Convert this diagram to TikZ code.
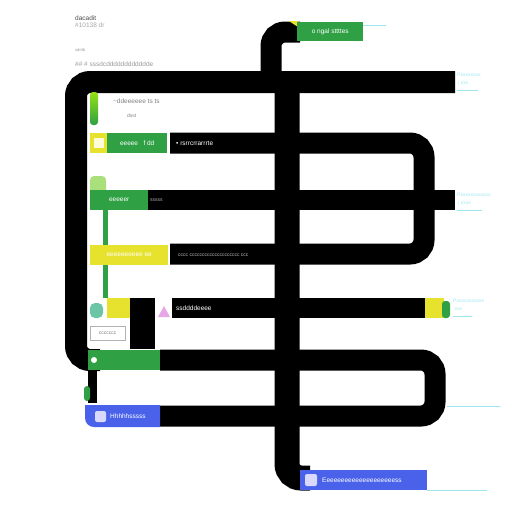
\documentclass[tikz,border=0pt]{standalone}
\usepackage{fontspec}
\setsansfont{Liberation Sans}
\usetikzlibrary{positioning}
\definecolor{lgreen}{HTML}{2FA043}
\definecolor{lyellow}{HTML}{E6E22E}
\definecolor{lblue}{HTML}{4A62EA}
\definecolor{lcyan}{HTML}{9EE6EE}
\definecolor{lteal}{HTML}{6CC6A6}
\definecolor{lpink}{HTML}{E7A6E6}
\begin{document}
\begin{tikzpicture}[x=1pt,y=-1pt,
    pipe/.style={line width=#1,black,rounded corners=14pt},
    tag/.style={fill=#1,draw=none,inner sep=2pt,anchor=north west,text=white,
                font=\sffamily\fontsize{6.5}{7}\selectfont},
    btext/.style={anchor=west,inner sep=0pt,text=white,font=\sffamily\fontsize{6.5}{7}\selectfont},
    note/.style={anchor=west,inner sep=0pt,text=lcyan,font=\sffamily\fontsize{5}{6}\selectfont},
    gtext/.style={anchor=west,inner sep=0pt,text=gray,font=\sffamily\fontsize{6.5}{7}\selectfont}]
  \useasboundingbox (0,0) rectangle (512,512);
  % black pipes
  \draw[pipe=21pt] (271,85) -- (271,32) -- (300,32);
  \draw[pipe=22pt] (100,360) -- (76,360) -- (76,82) -- (455,82);
  \draw[pipe=25pt] (287,90) -- (287,478) -- (310,478);
  \draw[pipe=21pt] (170,143) -- (424,143) -- (424,254) -- (170,254);
  \draw[line width=20pt] (148,200) -- (455,200);
  \draw[line width=20pt] (172,308) -- (426,308);
  \fill (130,298) rectangle (155,349);
  \draw[pipe=21pt] (160,360) -- (435,360) -- (435,416) -- (160,416);
  \draw[line width=9pt] (92.5,368) -- (92.5,403);

  % top left text
  \node[gtext,text=black!70] (title) at (75,18) {dacadit};
  \node[gtext,text=gray!70,below=2pt of title.south west,anchor=north west] (sub) {\#10138 dr};
  \node[gtext,text=gray!80,font=\sffamily\fontsize{4}{5}\selectfont] (tiny) at (75,50) {sd/db};
  \node[gtext,text=gray!80] (long) at (75,64) {\#\# \# sssdcdddddddddddde};

  % top label
  \fill[lyellow] (289,21) -- (298,21) -- (298,27) -- cycle;
  \node[tag=lgreen,minimum width=66pt,minimum height=19pt] (lbtop) at (297,22) {o ngal sttttes};
  \draw[lcyan,line width=0.8pt] ([yshift=-3pt]lbtop.north east) -- ++(23,0);

  % first row
  \shade[top color=lime!70!lgreen,bottom color=lgreen,rounded corners=3pt] (90,92) rectangle (98,125);
  \node[gtext] (txa) at (113,101) {\textasciitilde{}ddeeeeee ts ts};
  \node[gtext,font=\sffamily\fontsize{5}{6}\selectfont] (txb) at (127,116) {dsst};
  \node[note] (n1a) at (457,75) {Pxxxxxxxx};
  \node[note] (n1b) at (457,83) {$\vert$ xxx};
  \draw[lcyan,line width=0.6pt] (457,90) -- (478,90);

  % second row
  \node[tag=lyellow,minimum width=17pt,minimum height=20pt] (sq2) at (90,133) {};
  \fill[yellow!15] (94,138) rectangle (104,148);
  \node[tag=lgreen,minimum width=60pt,minimum height=20pt] (lb2) at (107,133) {eeeee \ \ f dd};
  \node[btext] (tx2) at (176,143) {\textbullet~rsrrcrrarrrte};

  % third row
  \fill[lime!45!lgreen!60,rounded corners=4pt] (90,176) rectangle (106,196);
  \node[tag=lgreen,minimum width=58pt,minimum height=20pt] (lb3) at (90,190) {eeeeer};
  \node[btext,text=gray!60,font=\sffamily\fontsize{5}{6}\selectfont] (tx3) at (150,200) {sssss};
  \fill[lgreen] (103,210) rectangle (108,298);
  \node[note] (n3a) at (457,195) {Pxxxxxxxxxxxx};
  \node[note] (n3b) at (457,203) {$\vert$ xxxx};
  \draw[lcyan,line width=0.6pt] (457,210) -- (482,210);

  % fourth row
  \node[tag=lyellow,minimum width=78pt,minimum height=20pt] (lb4) at (90,245) {eeeeeeeeee ee};
  \node[btext,text=gray!55,font=\sffamily\fontsize{5}{6}\selectfont] (tx4) at (178,255) {cccc cccccccccccccccccccc ccc};

  % fifth row
  \fill[lteal,rounded corners=5pt] (90,303) rectangle (103,318);
  \node[tag=lyellow,minimum width=23pt,minimum height=20pt] (sq5) at (107,298) {};
  \fill[lpink] (158,317) -- (164,306) -- (170,317) -- cycle;
  \node[btext] (tx5) at (176,308) {ssddddeeee};
  \node[tag=white,draw=gray!60,text=gray,minimum width=35pt,minimum height=14pt,
        font=\sffamily\fontsize{5}{6}\selectfont] (box5) at (90,326) {ccccccc};
  \node[tag=lyellow,minimum width=19pt,minimum height=20pt] (lb5r) at (425,298) {};
  \fill[lgreen,rounded corners=3pt] (442,301) rectangle (450,318);
  \node[note] (n5a) at (453,301) {Pxxxxxxxxxxx};
  \node[note] (n5b) at (453,309) {\ xxx};
  \draw[lcyan,line width=0.6pt] (453,316) -- (472,316);

  % sixth row
  \node[tag=lgreen,minimum width=72pt,minimum height=20pt] (lb6) at (88,350) {};
  \fill[white] ([shift={(6,10)}]lb6.north west) circle (3pt);
  \fill[lgreen,rounded corners=3pt] (84,386) rectangle (90,401);

  % seventh row
  \fill[lblue] (160,405) -- (85,405) [rounded corners=9pt] -- (85,427) [sharp corners] -- (160,427) -- cycle;
  \node[inner sep=0pt,minimum width=75pt,minimum height=22pt,anchor=north west] (lb7) at (85,405) {};
  \fill[blue!15,rounded corners=2pt] (95,411) rectangle (106,422);
  \node[btext] (tx7) at (110,416) {Hhhhhsssss};
  \draw[lcyan,line width=0.8pt] (447,406) -- (500,406);

  % bottom label
  \node[tag=lblue,minimum width=127pt,minimum height=20pt] (lb8) at (300,470) {};
  \fill[blue!15,rounded corners=2pt] (305,474) rectangle (317,486);
  \node[btext] (tx8) at (322,480) {Eeeeeeeeeeeeeeeeeeeess};
  \draw[lcyan,line width=0.8pt] (lb8.south east) -- ++(60,0);
\end{tikzpicture}
\end{document}
